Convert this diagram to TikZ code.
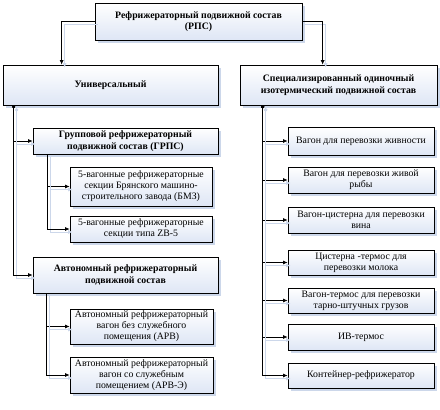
\documentclass[tikz,border=0pt]{standalone}
\usepackage{fontspec}
\setmainfont{Liberation Serif}
\usetikzlibrary{arrows.meta,shadows}
\definecolor{shc}{RGB}{204,215,234}
\definecolor{botc}{RGB}{222,230,245}
\tikzset{
  box/.style={draw=black, line width=0.7pt, top color=white, bottom color=botc,
    align=center, inner sep=1pt, font=\fontsize{9.8}{11}\selectfont,
    drop shadow={shadow xshift=3pt, shadow yshift=-3pt, fill=shc, opacity=1}},
  bbox/.style={box, font=\fontsize{9.8}{11.5}\selectfont\bfseries},
  conn/.style={draw=black, line width=0.7pt, -{Latex[length=4.5pt,width=4pt]},
    preaction={draw=shc, line width=0.8pt, transform canvas={shift={(3pt,-3pt)}}}},
  dconn/.style={conn, {Circle[length=3pt]}-{Latex[length=4.5pt,width=4pt]}}
}
\newcommand\bx[6][box]{\node[#1, minimum width={(#4-#2)*1pt}, minimum height={(#5-#3)*1pt}] (#6) at ({(#2+#4)/2},{(#3+#5)/2})}
\begin{document}
\begin{tikzpicture}[x=1pt,y=-1pt]
\useasboundingbox (0,0) rectangle (440,410);
\bx[bbox]{95}{3}{302}{40}{top}{Рефрижераторный подвижной состав\\(РПС)};
\bx[bbox]{3}{65}{218}{105}{univ}{Универсальный};
\bx[bbox]{240}{65}{437}{105}{spec}{Специализированный одиночный\\изотермический подвижной состав};
\bx[bbox]{33}{128}{218}{154}{grps}{Групповой рефрижераторный\\подвижной состав (ГРПС)};
\bx{70}{167}{212}{206}{b1}{5-вагонные рефрижераторные\\секции Брянского машино-\\строительного завода (БМЗ)};
\bx{70}{216}{212}{242}{b2}{5-вагонные рефрижераторные\\секции типа ZB-5};
\bx[bbox]{33}{257}{218}{293}{auto}{Автономный рефрижераторный\\подвижной состав};
\bx{70}{309}{213}{344}{b3}{Автономный рефрижераторный\\вагон без служебного\\помещения (АРВ)};
\bx{70}{357}{213}{393}{b4}{Автономный рефрижераторный\\вагон со служебным\\помещением (АРВ-Э)};
\bx{288}{127}{434}{155}{r1}{Вагон для перевозки живности};
\bx{288}{167}{434}{193}{r2}{Вагон для перевозки живой\\рыбы};
\bx{288}{207}{434}{233}{r3}{Вагон-цистерна для перевозки\\вина};
\bx{288}{250}{434}{275}{r4}{Цистерна -термос для\\перевозки молока};
\bx{288}{288}{434}{313}{r5}{Вагон-термос для перевозки\\тарно-штучных грузов};
\bx{288}{324}{434}{350}{r6}{ИВ-термос};
\bx{288}{363}{434}{388}{r7}{Контейнер-рефрижератор};
\draw[conn] (top.west) -| ([xshift=59pt]univ.north west);
\draw[conn] (top.east) -| ([xshift=83pt]spec.north west);
\draw[dconn] ([xshift=11pt]univ.south west) |- (grps.west);
\draw[dconn] ([xshift=11pt]univ.south west) |- (auto.west);
\draw[conn] ([xshift=15pt]grps.south west) |- (b1.west);
\draw[conn] ([xshift=15pt]grps.south west) |- (b2.west);
\draw[conn] ([xshift=14pt]auto.south west) |- (b3.west);
\draw[conn] ([xshift=14pt]auto.south west) |- (b4.west);
\foreach \r in {r1,r2,r3,r4,r5,r6,r7}
  \draw[dconn] ([xshift=23pt]spec.south west) |- (\r.west);
\end{tikzpicture}
\end{document}
